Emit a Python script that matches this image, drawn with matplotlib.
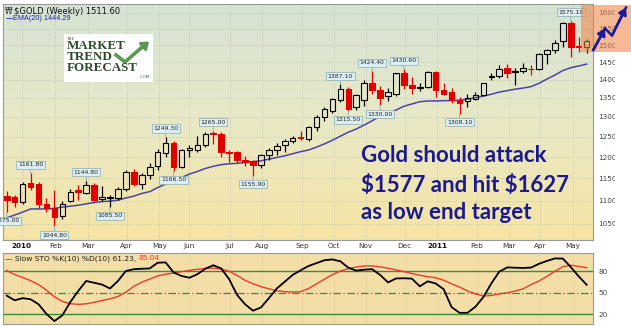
import numpy as np
import matplotlib
matplotlib.use("Agg")
import matplotlib.pyplot as plt
from matplotlib.patches import Rectangle, FancyArrowPatch
from matplotlib.ticker import FixedLocator, NullLocator

# ---------------- data: weekly gold candles, Dec 2009 - May 2011 ----------------
opens = [1111, 1107, 1096, 1140, 1137, 1092, 1083, 1066, 1100, 1123,
         1118, 1134, 1103, 1106, 1106, 1125, 1165, 1137, 1158, 1178,
         1210, 1233, 1177, 1216, 1218, 1228, 1259, 1257, 1213, 1212,
         1193, 1191, 1180, 1205, 1216, 1229, 1240, 1248, 1243, 1274,
         1300, 1316, 1344, 1374, 1327, 1345, 1392, 1371, 1356, 1362,
         1420, 1386, 1377, 1381, 1422, 1371, 1366, 1344, 1342, 1347,
         1358, 1407, 1411, 1432, 1421, 1424, 1431, 1429, 1475, 1487,
         1512, 1567, 1499, 1495]
highs = [1121, 1112, 1141, 1161.8, 1142, 1105, 1124, 1100, 1127, 1135,
         1144.8, 1139, 1132, 1112, 1131, 1169, 1171, 1163, 1186, 1219,
         1249.3, 1240, 1219, 1228, 1251, 1262, 1265, 1261, 1217, 1215,
         1203, 1194, 1208, 1222, 1234, 1243, 1252, 1265, 1276, 1305,
         1326, 1349, 1387.1, 1381, 1362, 1399, 1424.4, 1382, 1378, 1415,
         1430.6, 1408, 1390, 1424, 1424, 1392, 1377, 1352, 1360, 1366,
         1392, 1420, 1442, 1446, 1432, 1447, 1441, 1477, 1490, 1515,
         1570, 1575.1, 1525, 1520]
lows = [1075, 1087, 1093, 1123, 1083, 1076, 1044.8, 1061, 1096, 1101,
        1114, 1098, 1099, 1085.5, 1102, 1121, 1133, 1125, 1148, 1170,
        1200, 1166.5, 1173, 1200, 1211, 1224, 1232, 1200, 1189, 1187,
        1178, 1155.9, 1175, 1194, 1205, 1212, 1234, 1241, 1240, 1265,
        1289, 1310, 1340, 1315.5, 1318, 1328, 1360, 1330, 1342, 1355,
        1374, 1360, 1370, 1376, 1354, 1358, 1337, 1308.1, 1325, 1344,
        1355, 1399, 1404, 1404, 1385, 1418, 1413, 1427, 1446, 1476,
        1495, 1464, 1481, 1476]
closes = [1102, 1096, 1138, 1131, 1092, 1083, 1065, 1092, 1120, 1120,
          1134, 1101, 1107, 1107.5, 1126, 1165, 1137, 1158, 1177, 1213,
          1233, 1176, 1216, 1221, 1229, 1257, 1256, 1213, 1210, 1192,
          1189, 1181, 1206, 1217, 1227, 1240, 1247, 1246, 1274, 1300,
          1320, 1346, 1374, 1322, 1358, 1392, 1372, 1350, 1366, 1418,
          1386, 1377, 1381, 1422, 1371, 1362, 1344, 1336, 1351, 1358,
          1390, 1411, 1429, 1418, 1424, 1432, 1429, 1475, 1487, 1506,
          1568, 1495, 1496, 1511.6]

ema20 = [1063, 1069, 1075, 1082, 1082, 1082, 1083, 1086, 1088, 1090,
         1093, 1096, 1098, 1099, 1101, 1106, 1110, 1116, 1120, 1129,
         1137, 1144, 1152, 1160, 1166, 1173, 1178, 1182, 1184, 1185,
         1187, 1189, 1191, 1195, 1199, 1203, 1208, 1213, 1217, 1224,
         1232, 1241, 1251, 1261, 1269, 1279, 1290, 1302, 1310, 1318,
         1328, 1334, 1340, 1342, 1342, 1343, 1343, 1344, 1347, 1351,
         1355, 1360, 1366, 1370, 1374, 1377, 1381, 1390, 1402, 1413,
         1426, 1434, 1439, 1444.29]

sto_k = [46, 39.5, 42.5, 41, 34, 20.5, 10.5, 18.5, 37, 52.5,
         66.5, 64, 61.5, 56, 66.5, 80.5, 83, 83.6, 84, 92,
         92.5, 78.5, 73.5, 71, 76, 83.6, 88.5, 84, 69, 47,
         34, 25, 29.5, 42.5, 56, 65.5, 75, 81.5, 87.5, 91.5,
         95.5, 96.6, 94, 85, 81, 82.3, 83, 75, 64.5, 70,
         70.3, 69.8, 59, 66, 63, 55, 30, 22, 22, 30.5,
         44, 63, 79.5, 85.5, 85, 84.7, 85.2, 90.5, 94.5, 98,
         97.8, 86, 73, 61.23]
sto_d = [81, 75.5, 71.5, 67, 61.5, 53.5, 44.5, 38, 34.8, 33.8,
         34.6, 36.7, 39.2, 41.5, 44.8, 50.9, 59, 64.8, 69.2, 73.6,
         76, 77.5, 79.5, 81.4, 82.8, 84, 84.5, 83.3, 80, 74.3,
         67.4, 62.5, 58.6, 55.6, 52.7, 51.6, 50.9, 51.6, 56, 62.5,
         69, 75.5, 80.5, 83.8, 86, 87.5, 87.6, 86.2, 84.3, 82,
         79.5, 77, 74.5, 72.5, 71, 67.5, 62.5, 58, 52.5, 48.5,
         45.4, 46.3, 48.5, 50, 52.5, 55.5, 61.5, 66.5, 73, 80,
         86.5, 88.5, 87, 85.04]

month_labels = ["2010", "Feb", "Mar", "Apr", "May", "Jun", "Jul", "Aug", "Sep",
                "Oct", "Nov", "Dec", "2011", "Feb", "Mar", "Apr", "May"]
month_pos = [1.9, 6.1, 10.2, 15.1, 19.2, 23.0, 28.1, 32.1, 37.2,
             41.2, 45.2, 50.1, 54.2, 59.2, 63.2, 67.1, 71.3]

price_ticks = [1050, 1100, 1150, 1200, 1250, 1300, 1350, 1400, 1450, 1500, 1550, 1600]
sto_ticks = [20, 50, 80]

# price callouts: (week index, price, side)
callouts = [(0, 1075.00, "low"), (3, 1161.80, "high"), (6, 1044.80, "low"),
            (10, 1144.80, "high"), (13, 1085.50, "low"), (20, 1249.30, "high"),
            (21, 1166.50, "low"), (26, 1265.00, "high"), (31, 1155.90, "low"),
            (42, 1387.10, "high"), (43, 1315.50, "low"), (46, 1424.40, "high"),
            (47, 1330.00, "low"), (50, 1430.60, "high"), (57, 1308.10, "low"),
            (71, 1575.10, "high")]

note_lines = ["Gold should attack", "$1577 and hit $1627", "as low end target"]

# ---------------- layout helpers ----------------
W, H = 631, 326
fig = plt.figure(figsize=(W / 100, H / 100), dpi=100)
fig.patch.set_facecolor("white")


def rect(x0, y0, x1, y1):
    return [x0 / W, 1 - y1 / H, (x1 - x0) / W, (y1 - y0) / H]


def fx(px):
    return px / W


def fy(py):
    return 1 - py / H


RED = "#e00000"
GRID = "#bdbdb5"
SPINE = "#9a9a9a"

o = np.array(opens, float)
h = np.array(highs, float)
l = np.array(lows, float)
c = np.array(closes, float)
x = np.arange(len(c))
xlim = (-0.47, 73.8)

# ---------------- price panel ----------------
main_rect = rect(3, 3.5, 593, 240)
bg = fig.add_axes(main_rect, zorder=0)
top_col = np.array([212, 227, 213]) / 255
mid_col = np.array([233, 233, 198]) / 255
bot_col = np.array([245, 228, 164]) / 255
t = np.linspace(0, 1, 200)[:, None]
grad = np.where(t < 0.5, top_col + (mid_col - top_col) * (t / 0.5),
                mid_col + (bot_col - mid_col) * ((t - 0.5) / 0.5))
bg.imshow(grad[:, None, :], aspect="auto", extent=[0, 1, 0, 1])
bg.axis("off")

ax = fig.add_axes(main_rect, zorder=1)
ax.patch.set_alpha(0)
ax.set_yscale("log")
ax.set_ylim(1017, 1630)
ax.set_xlim(*xlim)

ax.yaxis.set_major_locator(FixedLocator(price_ticks))
ax.yaxis.set_minor_locator(NullLocator())
ax.set_yticklabels([str(v) for v in price_ticks])
ax.yaxis.tick_right()
ax.tick_params(axis="y", length=0, pad=4, labelsize=5.2, labelcolor="#444444")
ax.set_xticks(month_pos)
ax.set_xticklabels(month_labels)
ax.tick_params(axis="x", length=0, pad=2.2, labelsize=5.2, labelcolor="#333333")
for lab in ax.get_xticklabels():
    if lab.get_text().startswith("20"):
        lab.set_fontweight("bold")
        lab.set_color("#111111")
ax.grid(True, color=GRID, linestyle=(0, (1, 2)), lw=0.6)
for s in ax.spines.values():
    s.set_color(SPINE)
    s.set_linewidth(0.8)

up = c >= o
body_lo = np.minimum(o, c)
body_hi = np.maximum(o, c)
col = np.where(up, "black", RED)
ax.vlines(x, l, body_lo, colors=col, lw=0.9, zorder=3)
ax.vlines(x, body_hi, h, colors=col, lw=0.9, zorder=3)
ax.bar(x[up], (body_hi - body_lo)[up], bottom=body_lo[up], width=0.7,
       facecolor="none", edgecolor="black", lw=0.8, zorder=4)
ax.bar(x[~up], (body_hi - body_lo)[~up], bottom=body_lo[~up], width=0.7,
       facecolor=RED, edgecolor=RED, lw=0.8, zorder=4)

ax.plot(x, ema20, color="#4a44a6", lw=1.1, zorder=2)

for idx, val, side in callouts:
    off = 6.0 if side == "high" else -6.2
    ax.annotate(f"{val:.2f}", xy=(idx, val), xytext=(0, off),
                textcoords="offset points", ha="center", va="center",
                fontsize=4.4, color="#222222", annotation_clip=False,
                bbox=dict(boxstyle="square,pad=0.25", fc="#ddeef2", ec="#86aebb", lw=0.5),
                arrowprops=dict(arrowstyle="-", color="#86aebb", lw=0.6,
                                shrinkA=0, shrinkB=0), zorder=6)

# chart heading
fig.text(fx(5), fy(11), "\u20a9", fontsize=5.5, color="#333333",
         va="center", ha="left")
fig.text(fx(14.5), fy(11), "$GOLD (Weekly) 1511.60", fontsize=6.0,
         color="#111111", va="center", ha="left", parse_math=False)
fig.text(fx(5.5), fy(18.5), "\u2014", fontsize=5.5, color="#2222aa",
         va="center", ha="left", family="DejaVu Sans")
fig.text(fx(13), fy(18.5), "EMA(20) 1444.29", fontsize=5.2, color="#2222aa",
         va="center", ha="left", family="Liberation Sans")

# logo block
fig.patches.append(Rectangle((fx(64), fy(82)), fx(89), 48 / H,
                             transform=fig.transFigure, fc="white", ec="none",
                             zorder=3))
logo_col = "#2e4a2e"
fig.text(fx(67), fy(38.5), "THE", fontsize=3.0, color=logo_col, family="Liberation Serif",
         va="center", ha="left", zorder=4)
for txt, py in [("MARKET", 46.0), ("TREND", 57.0), ("FORECAST", 68.0)]:
    fig.text(fx(66.5), fy(py), txt, fontsize=9.4, fontweight="bold", color=logo_col,
             family="Liberation Serif", va="center", ha="left", zorder=4)
fig.text(fx(150), fy(77.5), ".COM", fontsize=3.0, color=logo_col, family="Liberation Serif",
         va="center", ha="right", zorder=4)
fig.lines.append(plt.Line2D([fx(116), fx(125), fx(141)], [fy(55), fy(62), fy(48)],
                            transform=fig.transFigure, color="#5a9a50", lw=2.6,
                            zorder=4))
fig.patches.append(FancyArrowPatch((fx(139), fy(50)), (fx(149), fy(41.5)),
                                   transform=fig.transFigure,
                                   arrowstyle="-|>,head_length=4,head_width=3",
                                   color="#5a9a50", lw=2.0, zorder=4,
                                   shrinkA=0, shrinkB=0))

# forecast note
note_col = "#1a1a8e"
for txt, py in zip(note_lines, [162.5, 191.5, 219]):
    fig.text(fx(361), fy(py), txt, fontsize=16, fontweight="bold", color=note_col,
             family="Lato", va="baseline", ha="left", zorder=5, parse_math=False)

# ---------------- stochastic panel ----------------
sax = fig.add_axes(rect(3, 253, 593, 324), zorder=1)
sax.set_facecolor("#f3dea8")
sax.set_xlim(*xlim)
sax.set_ylim(6.4, 105.6)
sax.set_xticks(month_pos)
sax.set_xticklabels([])
sax.tick_params(axis="x", length=0)
sax.grid(True, axis="x", color="#d8c590", linestyle=(0, (1, 2)), lw=0.5)
sax.yaxis.tick_right()
sax.set_yticks(sto_ticks)
sax.set_yticklabels([str(v) for v in sto_ticks])
sax.tick_params(axis="y", length=0, pad=4, labelsize=5.2, labelcolor="#444444")
for s in sax.spines.values():
    s.set_color(SPINE)
    s.set_linewidth(0.8)
sax.axhline(80, color="#3d8b3d", lw=1.0)
sax.axhline(20, color="#3d8b3d", lw=1.0)
sax.axhline(50, color="#3d8b3d", lw=0.9, linestyle=(0, (6, 2, 1, 2)))
sax.plot(x, sto_d, color="#ee3a2a", lw=1.0)
sax.plot(x, sto_k, color="black", lw=1.3)

s1 = fig.text(fx(5), fy(258.5), "\u2014 Slow STO %K(10) %D(10) 61.23, ",
              fontsize=5.4, color="#222222", va="center", ha="left")
fig.canvas.draw()
bb = s1.get_window_extent()
fig.text(bb.x1 / W, fy(258.5), "85.04", fontsize=5.4, color="#ee3a2a",
         va="center", ha="left")

# right-hand edge: white margin, highlight box and projected path
fig.patches.append(Rectangle((fx(614.5), 0), fx(631 - 614.5), 1,
                             transform=fig.transFigure, fc="white", ec="none",
                             zorder=8))
fig.patches.append(Rectangle((fx(580.5), fy(51.7)), fx(631 - 580.5), 46.7 / H,
                             transform=fig.transFigure, fc="#f08040", ec="none",
                             alpha=0.55, zorder=9))
arrow_col = "#1c1c9a"
path1 = ([593.3, 605.0], [50, 28.5])
path2 = ([605.0, 612.0, 626.0], [28.5, 35.5, 7.5])
for px, py in (path1, path2):
    xs = [fx(v) for v in px]
    ys = [fy(v) for v in py]
    fig.lines.append(plt.Line2D(xs, ys, transform=fig.transFigure,
                                color=arrow_col, lw=1.8, zorder=10))
    fig.patches.append(FancyArrowPatch(
        (xs[-2], ys[-2]), (xs[-1], ys[-1]), transform=fig.transFigure,
        arrowstyle="-|>,head_length=4,head_width=2.5", color=arrow_col,
        lw=1.8, zorder=10, shrinkA=0, shrinkB=0))

fig.savefig("out.png", dpi=100, facecolor="white")
